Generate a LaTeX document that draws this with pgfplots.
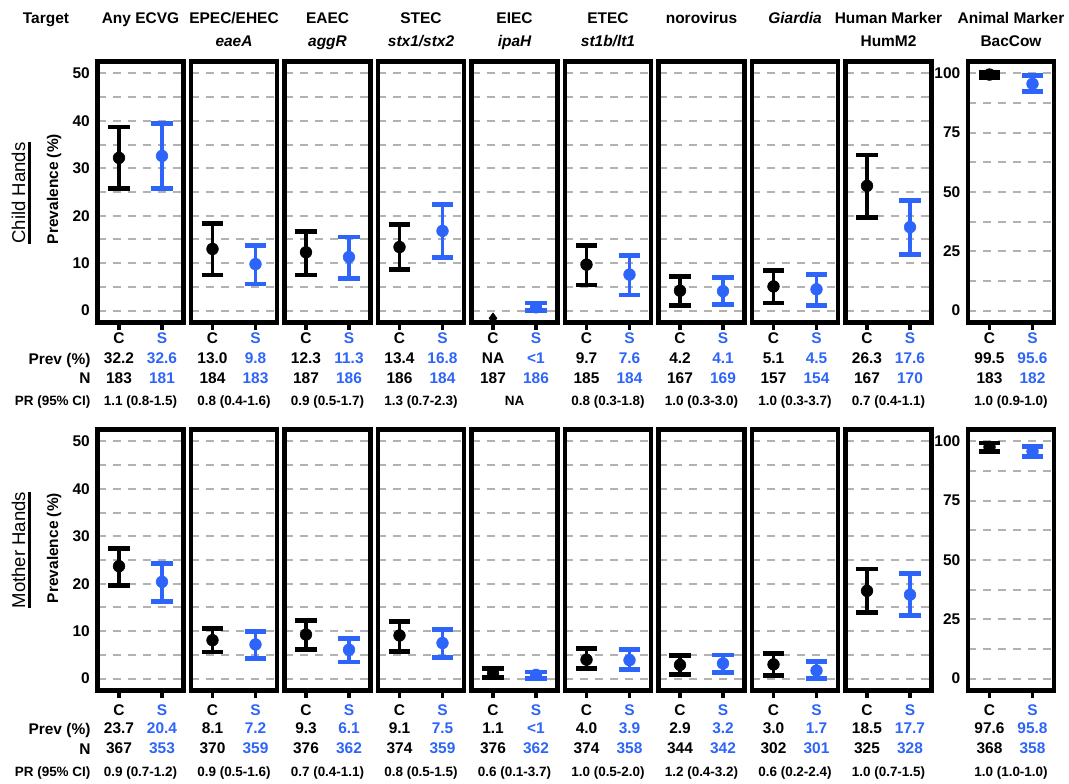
\documentclass[border=0pt]{standalone}
\usepackage{pgfplots}
\pgfplotsset{compat=1.18}
\usepackage{fontspec}
\setmainfont{Liberation Sans}
\definecolor{sblue}{RGB}{45,100,250}
\def\u{0.75pt}
\newcommand\fA{\fontsize{11.6}{13}\selectfont\bfseries}
\newcommand\fB{\fontsize{10.1}{12}\selectfont\bfseries}
\newcommand\fC{\fontsize{13.9}{16}\selectfont}
\def\oCS{15.6pt}\def\oPrev{31.1pt}\def\oN{45.75pt}\def\oPR{61.9pt}
\newcommand\vals[5]{%
 \node[font=\fA,anchor=base,yshift=-\oCS] at (rel axis cs:0.25,0) {C};
 \node[font=\fA,anchor=base,yshift=-\oCS,text=sblue] at (rel axis cs:0.75,0) {S};
 \node[font=\fA,anchor=base,yshift=-\oPrev] at (rel axis cs:0.25,0) {#1};
 \node[font=\fA,anchor=base,yshift=-\oPrev,text=sblue] at (rel axis cs:0.75,0) {#2};
 \node[font=\fA,anchor=base,yshift=-\oN] at (rel axis cs:0.25,0) {#3};
 \node[font=\fA,anchor=base,yshift=-\oN,text=sblue] at (rel axis cs:0.75,0) {#4};
 \node[font=\fB,anchor=base,yshift=-\oPR] at (rel axis cs:0.5,0) {#5};
}
\pgfplotsset{
 panel/.style={scale only axis, width=64.5pt, height=195.75pt, anchor=north west,
  xmin=0.5, xmax=2.5, xtick={1,2}, xticklabels={}, xtick pos=lower, ytick pos=left,
  tick align=outside, major tick length=5.6pt, minor tick length=0pt,
  axis line style={line width=3.4pt},
  ytick style={draw=none}, xtick style={black, line width=2.4pt},
  ymajorgrids, yminorgrids,
  major grid style={black!30, line width=1.5pt, dash pattern=on 6pt off 5.25pt},
  minor grid style={black!30, line width=1.5pt, dash pattern=on 6pt off 5.25pt},
  yticklabel style={font=\fA, inner sep=0pt, anchor=east},
  /pgf/number format/assume math mode=true,
  clip mode=individual},
 half/.style={ymin=-2.5, ymax=52.5, ytick={0,10,...,50}, minor ytick={5,15,...,45}},
 full/.style={ymin=-5, ymax=105, ytick={0,25,...,100}, minor ytick={12.5,37.5,...,87.5}},
 nolab/.style={yticklabels={}},
 cpt/.style={only marks, black, mark=*, mark size=4.4pt, mark options={solid, fill=black, draw=black},
  error bars/.cd, y dir=both, y explicit, error bar style={line width=2.7pt, black},
  error mark options={rotate=90, line width=3.6pt, mark size=7.9pt, black}},
 spt/.style={only marks, sblue, mark=*, mark size=4.4pt, mark options={solid, fill=sblue, draw=sblue},
  error bars/.cd, y dir=both, y explicit, error bar style={line width=2.7pt, sblue},
  error mark options={rotate=90, line width=3.6pt, mark size=7.9pt, sblue}},
}
\begin{document}
\begin{tikzpicture}
\useasboundingbox (0,0) rectangle (1069*\u,-783*\u);
% headers
\begin{scope}[every node/.style={font=\fA, anchor=base, inner sep=0pt}]
\node at (46*\u,-23.3*\u) {Target};
\node at (140.5*\u,-23.3*\u) {Any ECVG};
\node at (234*\u,-23.3*\u) {EPEC/EHEC}; \node at (234*\u,-46*\u) {\itshape eaeA};
\node at (327.5*\u,-23.3*\u) {EAEC}; \node at (327.5*\u,-46*\u) {\itshape aggR};
\node at (421*\u,-23.3*\u) {STEC}; \node at (421*\u,-46*\u) {\itshape stx1/stx2};
\node at (514.5*\u,-23.3*\u) {EIEC}; \node at (514.5*\u,-46*\u) {\itshape ipaH};
\node at (608*\u,-23.3*\u) {ETEC}; \node at (608*\u,-46*\u) {\itshape st1b/lt1};
\node at (701.5*\u,-23.3*\u) {norovirus};
\node at (795*\u,-23.3*\u) {\itshape Giardia};
\node at (888.5*\u,-23.3*\u) {Human Marker}; \node at (888.5*\u,-46*\u) {HumM2};
\node at (1011*\u,-23.3*\u) {Animal Marker}; \node at (1011*\u,-46*\u) {BacCow};
% row labels
\node[anchor=base east] at (90.7*\u,-364*\u) {Prev (\%)};
\node[anchor=base east] at (90.7*\u,-383.5*\u) {N};
\node[anchor=base east,font=\fB] at (90.7*\u,-405*\u) {PR (95\% CI)};
\node[anchor=base east] at (90.7*\u,-734*\u) {Prev (\%)};
\node[anchor=base east] at (90.7*\u,-754.3*\u) {N};
\node[anchor=base east,font=\fB] at (90.7*\u,-776.7*\u) {PR (95\% CI)};
\node[rotate=90] at (58*\u,-189*\u) {Prevalence (\%)};
\node[rotate=90] at (58*\u,-548*\u) {Prevalence (\%)};
\end{scope}
\node[rotate=90, anchor=base, inner sep=0pt, font=\fC] (ch) at (25*\u,-193*\u) {Child Hands};
\draw[line width=3.2*\u] ([xshift=4.8*\u]ch.base west) -- ([xshift=4.8*\u]ch.base east);
\node[rotate=90, anchor=base, inner sep=0pt, font=\fC] (mh) at (25*\u,-550*\u) {Mother Hands};
\draw[line width=3.2*\u] ([xshift=4.8*\u]mh.base west) -- ([xshift=4.8*\u]mh.base east);

% ================= TOP ROW =================
\begin{axis}[panel, half, at={(97.5*\u,-61.5*\u)}]
\addplot[cpt] coordinates {(1,32.2) += (0,6.5) -= (0,6.4)};
\addplot[spt] coordinates {(2,32.6) += (0,6.8) -= (0,6.8)};
\vals{32.2}{32.6}{183}{181}{1.1 (0.8-1.5)}
\end{axis}
\begin{axis}[panel, half, nolab, at={(191*\u,-61.5*\u)}]
\addplot[cpt] coordinates {(1,13.0) += (0,5.3) -= (0,5.5)};
\addplot[spt] coordinates {(2,9.8) += (0,4.0) -= (0,4.2)};
\vals{13.0}{9.8}{184}{183}{0.8 (0.4-1.6)}
\end{axis}
\begin{axis}[panel, half, nolab, at={(284.5*\u,-61.5*\u)}]
\addplot[cpt] coordinates {(1,12.3) += (0,4.3) -= (0,4.8)};
\addplot[spt] coordinates {(2,11.3) += (0,4.2) -= (0,4.6)};
\vals{12.3}{11.3}{187}{186}{0.9 (0.5-1.7)}
\end{axis}
\begin{axis}[panel, half, nolab, at={(378*\u,-61.5*\u)}]
\addplot[cpt] coordinates {(1,13.4) += (0,4.8) -= (0,4.8)};
\addplot[spt] coordinates {(2,16.8) += (0,5.6) -= (0,5.6)};
\vals{13.4}{16.8}{186}{184}{1.3 (0.7-2.3)}
\end{axis}
\begin{axis}[panel, half, nolab, at={(471.5*\u,-61.5*\u)}]
\addplot[only marks, mark=diamond*, mark size=4pt, black] coordinates {(1,-1.6)};
\addplot[spt] coordinates {(2,0.7) += (0,0.9) -= (0,0.7)};
\vals{NA}{<1}{187}{186}{NA}
\end{axis}
\begin{axis}[panel, half, nolab, at={(565*\u,-61.5*\u)}]
\addplot[cpt] coordinates {(1,9.7) += (0,4.1) -= (0,4.3)};
\addplot[spt] coordinates {(2,7.6) += (0,4.1) -= (0,4.3)};
\vals{9.7}{7.6}{185}{184}{0.8 (0.3-1.8)}
\end{axis}
\begin{axis}[panel, half, nolab, at={(658.5*\u,-61.5*\u)}]
\addplot[cpt] coordinates {(1,4.2) += (0,3.0) -= (0,3.1)};
\addplot[spt] coordinates {(2,4.1) += (0,2.9) -= (0,2.8)};
\vals{4.2}{4.1}{167}{169}{1.0 (0.3-3.0)}
\end{axis}
\begin{axis}[panel, half, nolab, at={(752*\u,-61.5*\u)}]
\addplot[cpt] coordinates {(1,5.1) += (0,3.3) -= (0,3.5)};
\addplot[spt] coordinates {(2,4.5) += (0,3.2) -= (0,3.4)};
\vals{5.1}{4.5}{157}{154}{1.0 (0.3-3.7)}
\end{axis}
\begin{axis}[panel, half, nolab, at={(845.5*\u,-61.5*\u)}]
\addplot[cpt] coordinates {(1,26.3) += (0,6.5) -= (0,6.7)};
\addplot[spt] coordinates {(2,17.6) += (0,5.6) -= (0,5.7)};
\vals{26.3}{17.6}{167}{170}{0.7 (0.4-1.1)}
\end{axis}
\begin{axis}[panel, full, at={(968*\u,-61.5*\u)}]
\addplot[cpt] coordinates {(1,99.5) += (0,1.0) -= (0,1.4)};
\addplot[spt] coordinates {(2,95.6) += (0,3.4) -= (0,3.1)};
\vals{99.5}{95.6}{183}{182}{1.0 (0.9-1.0)}
\end{axis}

% ================= BOTTOM ROW =================
\def\oCS{18.75pt}\def\oPrev{32.25pt}\def\oN{47.5pt}\def\oPR{64.3pt}
\begin{axis}[panel, half, at={(97.5*\u,-429.5*\u)}]
\addplot[cpt] coordinates {(1,23.7) += (0,3.8) -= (0,4.0)};
\addplot[spt] coordinates {(2,20.4) += (0,3.8) -= (0,4.2)};
\vals{23.7}{20.4}{367}{353}{0.9 (0.7-1.2)}
\end{axis}
\begin{axis}[panel, half, nolab, at={(191*\u,-429.5*\u)}]
\addplot[cpt] coordinates {(1,8.1) += (0,2.4) -= (0,2.5)};
\addplot[spt] coordinates {(2,7.2) += (0,2.7) -= (0,3.0)};
\vals{8.1}{7.2}{370}{359}{0.9 (0.5-1.6)}
\end{axis}
\begin{axis}[panel, half, nolab, at={(284.5*\u,-429.5*\u)}]
\addplot[cpt] coordinates {(1,9.3) += (0,2.9) -= (0,3.1)};
\addplot[spt] coordinates {(2,6.1) += (0,2.4) -= (0,2.6)};
\vals{9.3}{6.1}{376}{362}{0.7 (0.4-1.1)}
\end{axis}
\begin{axis}[panel, half, nolab, at={(378*\u,-429.5*\u)}]
\addplot[cpt] coordinates {(1,9.1) += (0,3.0) -= (0,3.3)};
\addplot[spt] coordinates {(2,7.5) += (0,2.9) -= (0,3.1)};
\vals{9.1}{7.5}{374}{359}{0.8 (0.5-1.5)}
\end{axis}
\begin{axis}[panel, half, nolab, at={(471.5*\u,-429.5*\u)}]
\addplot[cpt] coordinates {(1,1.1) += (0,1.0) -= (0,0.9)};
\addplot[spt] coordinates {(2,0.8) += (0,0.6) -= (0,0.7)};
\vals{1.1}{<1}{376}{362}{0.6 (0.1-3.7)}
\end{axis}
\begin{axis}[panel, half, nolab, at={(565*\u,-429.5*\u)}]
\addplot[cpt] coordinates {(1,4.0) += (0,2.3) -= (0,1.8)};
\addplot[spt] coordinates {(2,3.9) += (0,2.2) -= (0,2.0)};
\vals{4.0}{3.9}{374}{358}{1.0 (0.5-2.0)}
\end{axis}
\begin{axis}[panel, half, nolab, at={(658.5*\u,-429.5*\u)}]
\addplot[cpt] coordinates {(1,2.9) += (0,1.9) -= (0,2.1)};
\addplot[spt] coordinates {(2,3.2) += (0,1.8) -= (0,1.9)};
\vals{2.9}{3.2}{344}{342}{1.2 (0.4-3.2)}
\end{axis}
\begin{axis}[panel, half, nolab, at={(752*\u,-429.5*\u)}]
\addplot[cpt] coordinates {(1,3.0) += (0,2.3) -= (0,2.4)};
\addplot[spt] coordinates {(2,1.7) += (0,1.9) -= (0,1.7)};
\vals{3.0}{1.7}{302}{301}{0.6 (0.2-2.4)}
\end{axis}
\begin{axis}[panel, half, nolab, at={(845.5*\u,-429.5*\u)}]
\addplot[cpt] coordinates {(1,18.5) += (0,4.6) -= (0,4.6)};
\addplot[spt] coordinates {(2,17.7) += (0,4.4) -= (0,4.4)};
\vals{18.5}{17.7}{325}{328}{1.0 (0.7-1.5)}
\end{axis}
\begin{axis}[panel, full, at={(968*\u,-429.5*\u)}]
\addplot[cpt] coordinates {(1,97.6) += (0,1.7) -= (0,2.0)};
\addplot[spt] coordinates {(2,95.8) += (0,2.1) -= (0,2.3)};
\vals{97.6}{95.8}{368}{358}{1.0 (1.0-1.0)}
\end{axis}
\end{tikzpicture}
\end{document}
